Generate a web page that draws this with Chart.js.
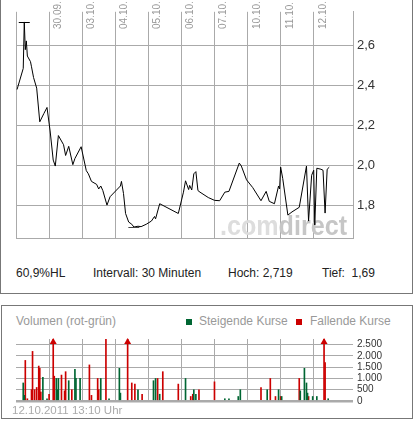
<!DOCTYPE html>
<html>
<head>
<meta charset="utf-8">
<script src="https://cdn.jsdelivr.net/npm/chart.js@4.4.0/dist/chart.umd.min.js"></script>
<style>
body { margin: 0; background: #fff; font-family: "Liberation Sans", Arial, sans-serif; }
#page { position: relative; width: 417px; height: 425px; overflow: hidden; }
.box { position: absolute; box-sizing: border-box; border: 1px solid #777; }
.txt { position: absolute; white-space: pre; font-size: 12px; line-height: 12px; }
.sq { position: absolute; width: 6px; height: 6px; }
canvas { position: absolute; left: 0; }
</style>
</head>
<body>
<div id="page">
    <div class="box" style="left:0;top:-5px;width:413px;height:299px"></div>
    <div class="box" style="left:1px;top:305px;width:412px;height:114px"></div>

    <canvas id="priceChart" width="417" height="250" style="top:0"></canvas>
    <canvas id="volChart" width="417" height="80" style="top:330px"></canvas>

    <div class="txt" id="hl" style="left:16px;top:267px;color:#222"></div>
    <div class="txt" id="interval" style="left:93px;top:267px;color:#222"></div>
    <div class="txt" id="high" style="left:228px;top:267px;color:#222"></div>
    <div class="txt" id="low" style="left:322px;top:267px;color:#222"></div>

    <div class="txt" style="left:16px;top:315px;color:#999">Volumen (rot-grün)</div>
    <div class="sq" style="left:186px;top:319px;background:#006633"></div>
    <div class="txt" style="left:199px;top:315px;color:#999">Steigende Kurse</div>
    <div class="sq" style="left:296px;top:319px;background:#cc0000"></div>
    <div class="txt" style="left:310px;top:315px;color:#999">Fallende Kurse</div>

    <div class="txt" id="stamp" style="left:12px;top:404px;color:#aaa;font-size:11.5px"></div>
</div>

<script>
// x values are half-hour trading slots counted from the start of 29.09. (32 per day)
var slotsPerDay = 32;
var dayLabels = ['30.09.', '03.10.', '04.10.', '05.10.', '06.10.', '07.10.', '10.10.', '11.10.', '12.10.'];
var dayLines = dayLabels.map(function(d, i) { return (i + 1) * slotsPerDay; });

var priceTicks = [1.8, 2.0, 2.2, 2.4, 2.6];
var volTicks = [0, 500, 1000, 1500, 2000, 2500];

var priceTimes = [1, 7, 8, 9, 10, 11, 14, 15, 17, 20, 23, 27, 30, 33, 36, 38, 41, 46, 48, 51,
    55, 57, 63, 68, 70, 73, 78, 80, 82, 84, 88, 91, 101, 102, 104, 106, 109, 112, 114, 118,
    121, 126, 131, 134, 135, 139, 157, 162, 164, 167, 168, 170, 172, 174, 176, 178, 186, 192, 197, 202,
    206, 216, 218, 223, 229, 237, 242, 245, 250, 254, 255, 256, 258, 263, 267, 274, 281, 283, 286, 288,
    289, 291, 295, 297, 299, 301, 303];
var prices = [2.38, 2.486, 2.719, 2.58, 2.624, 2.548, 2.52, 2.494, 2.44, 2.387, 2.218, 2.26, 2.29, 2.172, 2.026, 1.996, 2.149, 2.103, 2.049, 2.095,
    2.003, 2.034, 2.093, 1.973, 1.957, 1.919, 1.904, 1.881, 1.896, 1.873, 1.80, 1.842, 1.896, 1.919, 1.858, 1.758, 1.715, 1.704, 1.69, 1.694,
    1.692, 1.704, 1.72, 1.743, 1.731, 1.807, 1.758, 1.865, 1.922, 1.878, 1.899, 1.876, 1.957, 1.968, 1.873, 1.865, 1.838, 1.824, 1.822, 1.865,
    1.869, 2.011, 1.996, 1.927, 1.888, 1.822, 1.869, 1.819, 1.807, 1.896, 1.881, 1.991, 1.934, 1.75, 1.766, 1.789, 1.996, 1.72, 1.95, 1.975,
    1.70, 1.985, 1.98, 1.975, 1.76, 1.98, 1.99];

var riseTimes = [7, 8, 26, 30, 39, 40, 41, 51, 57, 58, 62, 82, 90, 100, 101, 118, 133, 135, 139, 164,
    172, 174, 202, 206, 215, 217, 243, 254, 257, 275, 279, 281, 282, 287, 291, 302];
var riseVols = [800, 250, 1050, 100, 1000, 500, 1000, 900, 1400, 1000, 1000, 1000, 100, 1450, 350, 500, 900, 1000, 300, 1000,
    500, 300, 100, 100, 200, 500, 500, 500, 200, 450, 1450, 800, 350, 200, 200, 100];

var fallTimes = [9, 11, 15, 16, 18, 20, 22, 23, 24, 32, 36, 37, 44, 47, 48, 54, 71, 73, 79, 80,
    87, 108, 112, 115, 122, 137, 142, 157, 169, 171, 177, 192, 237, 246, 251, 256, 274, 283, 298, 299];
var fallVols = [1800, 100, 500, 2200, 500, 600, 1550, 1450, 400, 300, 3100, 1100, 1150, 450, 1300, 500, 1600, 250, 1000, 500,
    2740, 3000, 800, 750, 300, 1000, 1300, 750, 200, 300, 500, 850, 600, 1000, 200, 200, 1000, 200, 4200, 1700];

var hoch = 2.719, tief = 1.69, spanPct = 60.9;
var intervalText = 'Intervall: 30 Minuten';
var stampText = '12.10.2011 13:10 Uhr';

var font = '"Liberation Sans", Arial, sans-serif';
var gridColor = '#aaaaaa';

function de(v, d) { return v.toFixed(d).replace('.', ','); }

document.getElementById('hl').textContent = de(spanPct, 1) + '%HL';
document.getElementById('interval').textContent = intervalText;
document.getElementById('high').textContent = 'Hoch: ' + de(hoch, 3);
document.getElementById('low').textContent = 'Tief:  ' + de(tief, 2);
document.getElementById('stamp').textContent = stampText;

function pairs(xs, ys) {
    return xs.map(function(x, i) { return {x: x, y: ys[i]}; });
}

var watermark = {
    id: 'watermark',
    beforeDatasetsDraw: function(chart) {
        var ctx = chart.ctx;
        ctx.save();
        ctx.font = 'bold 28px ' + font;
        var w1 = ctx.measureText('.com').width, w2 = ctx.measureText('direct').width;
        var k = 127 / (w1 + w2);
        ctx.translate(220, 235);
        ctx.scale(k, 1);
        ctx.fillStyle = '#dddddd';
        ctx.fillText('.com', 0, 0);
        ctx.fillStyle = '#c6c6c6';
        ctx.fillText('direct', w1, 0);
        ctx.restore();
    }
};

var dayText = {
    id: 'dayText',
    afterDatasetsDraw: function(chart) {
        var ctx = chart.ctx, xs = chart.scales.x;
        ctx.save();
        ctx.font = '10px ' + font;
        ctx.fillStyle = '#999';
        ctx.textBaseline = 'alphabetic';
        dayLabels.forEach(function(lab, i) {
            var px = xs.getPixelForValue(dayLines[i]);
            ctx.save();
            ctx.translate(px + 12, 29);
            ctx.rotate(-Math.PI / 2);
            ctx.fillText(lab, 0, 0);
            ctx.restore();
        });
        ctx.restore();
    }
};

var highLow = {
    id: 'highLow',
    afterDatasetsDraw: function(chart) {
        var ctx = chart.ctx, xs = chart.scales.x, ys = chart.scales.y;
        var hi = prices.indexOf(Math.max.apply(null, prices));
        var lo = prices.indexOf(Math.min.apply(null, prices));
        ctx.save();
        ctx.lineWidth = 1;
        [[hi, '#000'], [lo, '#444']].forEach(function(m) {
            var px = xs.getPixelForValue(priceTimes[m[0]]);
            var py = Math.round(ys.getPixelForValue(prices[m[0]])) + 0.5;
            ctx.strokeStyle = m[1];
            ctx.beginPath();
            ctx.moveTo(px - 5.5, py);
            ctx.lineTo(px + 5.5, py);
            ctx.stroke();
        });
        ctx.restore();
    }
};

new Chart(document.getElementById('priceChart'), {
    type: 'line',
    data: {
        datasets: [{
            data: pairs(priceTimes, prices),
            borderColor: '#000',
            borderWidth: 1,
            pointRadius: 0,
            tension: 0
        }]
    },
    options: {
        responsive: false,
        animation: false,
        layout: {padding: {left: 16, top: 0, right: 0, bottom: 3}},
        plugins: {legend: {display: false}, tooltip: {enabled: false}},
        scales: {
            x: {
                type: 'linear',
                min: 0,
                max: 326,
                afterBuildTicks: function(s) {
                    s.ticks = [0].concat(dayLines).map(function(v) { return {value: v}; });
                },
                afterFit: function(s) { s.height = 0; },
                ticks: {display: false},
                grid: {color: gridColor, drawTicks: false},
                border: {color: gridColor}
            },
            y: {
                position: 'right',
                min: 1.634,
                max: 2.77,
                afterBuildTicks: function(s) {
                    s.ticks = priceTicks.map(function(v) { return {value: v}; });
                },
                afterFit: function(s) { s.width = 64; },
                ticks: {
                    padding: 4,
                    color: '#333',
                    font: {family: font, size: 13},
                    callback: function(v) { return de(v, 1); }
                },
                grid: {color: gridColor, drawTicks: false},
                border: {color: gridColor}
            }
        }
    },
    plugins: [watermark, dayText, highLow]
});

var clipArrows = {
    id: 'clipArrows',
    afterDatasetsDraw: function(chart) {
        var ctx = chart.ctx, area = chart.chartArea, ymax = chart.scales.y.max;
        ctx.save();
        ctx.fillStyle = '#cc0000';
        chart.data.datasets.forEach(function(ds, di) {
            var meta = chart.getDatasetMeta(di);
            ds.data.forEach(function(p, i) {
                if (p.y <= ymax) return;
                var bx = meta.data[i].x;
                ctx.beginPath();
                ctx.moveTo(bx, area.top - 1);
                ctx.lineTo(bx + 3.5, area.top + 5);
                ctx.lineTo(bx - 3.5, area.top + 5);
                ctx.closePath();
                ctx.fill();
            });
        });
        ctx.restore();
    }
};

new Chart(document.getElementById('volChart'), {
    type: 'bar',
    data: {
        datasets: [{
            label: 'Steigende Kurse',
            data: pairs(riseTimes, riseVols),
            backgroundColor: '#006633',
            barThickness: 1,
            grouped: false
        }, {
            label: 'Fallende Kurse',
            data: pairs(fallTimes, fallVols),
            backgroundColor: '#cc0000',
            barThickness: 1,
            grouped: false
        }]
    },
    options: {
        responsive: false,
        animation: false,
        layout: {padding: {left: 16, top: 5, right: 0, bottom: 9}},
        plugins: {legend: {display: false}, tooltip: {enabled: false}},
        scales: {
            x: {
                type: 'linear',
                min: 0,
                max: 326,
                offset: false,
                afterBuildTicks: function(s) {
                    s.ticks = dayLines.map(function(v) { return {value: v}; });
                },
                afterFit: function(s) { s.height = 0; },
                ticks: {display: false},
                grid: {color: gridColor, drawTicks: false, offset: false},
                border: {display: false}
            },
            y: {
                position: 'right',
                min: 0,
                max: 2750,
                afterBuildTicks: function(s) {
                    s.ticks = volTicks.map(function(v) { return {value: v}; });
                },
                afterFit: function(s) { s.width = 64; },
                ticks: {
                    padding: 4,
                    autoSkip: false,
                    color: '#333',
                    font: {family: font, size: 10, lineHeight: 1},
                    callback: function(v) { return v.toLocaleString('de-DE'); }
                },
                grid: {
                    color: gridColor,
                    drawTicks: false,
                    lineWidth: function(c) { return c.tick && c.tick.value === 0 ? 2.5 : 1; }
                },
                border: {display: false}
            }
        }
    },
    plugins: [clipArrows]
});
</script>
</body>
</html>
